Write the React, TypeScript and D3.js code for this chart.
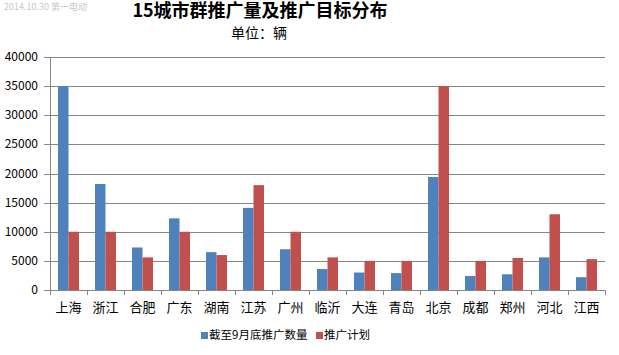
import React from "react";
import * as d3 from "d3";

const categories = ["上海", "浙江", "合肥", "广东", "湖南", "江苏", "广州", "临沂", "大连", "青岛", "北京", "成都", "郑州", "河北", "江西"];
const promoted = [35000, 18200, 7300, 12300, 6500, 14100, 7000, 3600, 3000, 2900, 19400, 2400, 2700, 5600, 2200];
const planned = [10000, 10000, 5600, 10000, 6000, 18000, 10000, 5600, 5000, 5000, 35000, 5000, 5500, 13000, 5300];
const seriesNames = ["截至9月底推广数量", "推广计划"];
const yTicks = [0, 5000, 10000, 15000, 20000, 25000, 30000, 35000, 40000];

const W = 619, H = 355;
const left = 50, right = 605, top = 57, bottom = 290;
const colors = ["#4F81BD", "#C0504D"];
const font = "'Noto Sans CJK SC', 'DejaVu Sans', sans-serif";

export default function App() {
  const x = d3.scaleBand().domain(categories).range([left, right]).paddingInner(0).paddingOuter(0);
  const y = d3.scaleLinear().domain([0, 40000]).range([bottom, top]);
  const bw = 10.5;
  const series = [promoted, planned];
  return (
    <svg width={W} height={H} style={{ position: "absolute", left: 0, top: 0, background: "#fff" }}>
      <text x={4} y={10} fontSize={9} fill="#c8c8c8" fontFamily={font}>2014.10.30 第一电动</text>
      <text x={260} y={17} textAnchor="middle" fontSize={18} fontWeight="bold" fontFamily={font} fill="#000">15城市群推广量及推广目标分布</text>
      <text x={259} y={38} textAnchor="middle" fontSize={14} fontFamily={font} fill="#000">单位：辆</text>
      {yTicks.map((t) => (
        <g key={t}>
          {t > 0 && <line x1={left} x2={right} y1={Math.round(y(t)) + 0.5} y2={Math.round(y(t)) + 0.5} stroke="#868686" strokeWidth={1} />}
          <line x1={left - 6} x2={left} y1={Math.round(y(t)) + 0.5} y2={Math.round(y(t)) + 0.5} stroke="#868686" />
          <text x={38} y={y(t) + 4} textAnchor="end" fontSize={12} fontFamily={font} fill="#000">{t}</text>
        </g>
      ))}
      {categories.map((c, i) => (
        <g key={c}>
          {series.map((s, k) => (
            <rect key={k} x={x(c)! + x.bandwidth() / 2 - bw + k * bw} y={y(s[i])} width={bw} height={bottom - y(s[i])} fill={colors[k]} />
          ))}
          <text x={x(c)! + x.bandwidth() / 2} y={312} textAnchor="middle" fontSize={13} fontFamily={font} fill="#000">{c}</text>
        </g>
      ))}
      {d3.range(categories.length + 1).map((i) => {
        const xx = Math.round(left + i * x.bandwidth()) + 0.5;
        return <line key={i} x1={xx} x2={xx} y1={bottom} y2={bottom + 5} stroke="#868686" />;
      })}
      <line x1={left + 0.5} x2={left + 0.5} y1={top} y2={bottom} stroke="#868686" />
      <line x1={left} x2={right} y1={bottom + 0.5} y2={bottom + 0.5} stroke="#868686" />
      <rect x={201} y={332} width={7} height={7} fill={colors[0]} />
      <text x={209} y={339} fontSize={11.5} fontFamily={font} fill="#000">{seriesNames[0]}</text>
      <rect x={316} y={332} width={7} height={7} fill={colors[1]} />
      <text x={324} y={339} fontSize={11.5} fontFamily={font} fill="#000">{seriesNames[1]}</text>
    </svg>
  );
}
